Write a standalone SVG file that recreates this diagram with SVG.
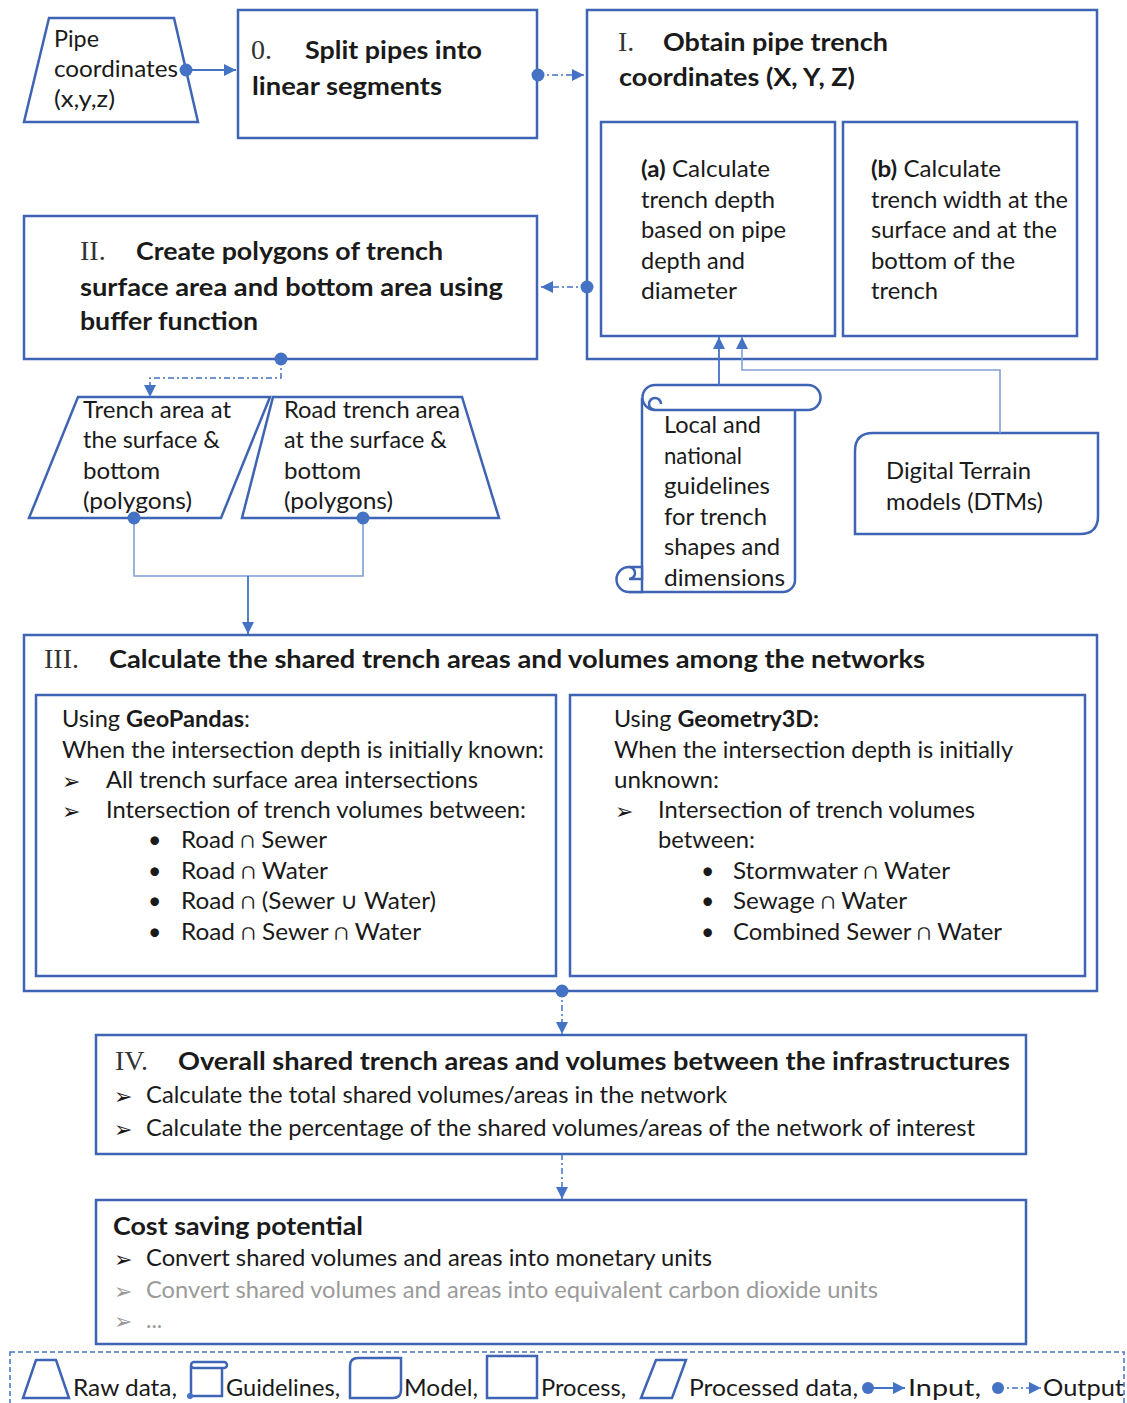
<svg xmlns="http://www.w3.org/2000/svg" width="1127" height="1403" viewBox="0 0 1127 1403">
<defs>
<style>
.box{fill:#fff;stroke:#3F64B4;stroke-width:2.5}
.t{font-family:Lato,'DejaVu Sans','Liberation Sans',sans-serif;font-size:23px;fill:#1a1a1a}
.b{font-family:Lato,'DejaVu Sans','Liberation Sans',sans-serif;font-size:25px;font-weight:700;fill:#1a1a1a}
.rn{font-family:'Liberation Serif','DejaVu Serif',serif;font-size:28px;fill:#333}
.ar{font-family:'DejaVu Sans',sans-serif;font-size:22px;fill:#1a1a1a}
.g{fill:#9a9a9a}
.in{fill:none;stroke:#4472C4;stroke-width:1.8}
.thin{fill:none;stroke:#7F9FD8;stroke-width:1.6}
.out{fill:none;stroke:#4472C4;stroke-width:1.5;stroke-dasharray:6 3 2 3}
.dot{fill:#4472C4}
</style>
<marker id="ah" viewBox="0 0 10 10" refX="10" refY="5" markerWidth="12" markerHeight="12" markerUnits="userSpaceOnUse" orient="auto">
<path d="M0,0 L10,5 L0,10 Z" fill="#4472C4"/>
</marker>
</defs>
<rect width="1127" height="1403" fill="#fff"/>

<g id="pipe-coordinates">
<polygon class="box" points="49,18 174,18 198,122 24,122"/>
<text class="t" x="54" y="47" textLength="45" lengthAdjust="spacingAndGlyphs">Pipe</text>
<text class="t" x="54" y="77" textLength="124" lengthAdjust="spacingAndGlyphs">coordinates</text>
<text class="t" x="54" y="107" textLength="61" lengthAdjust="spacingAndGlyphs">(x,y,z)</text>
</g>

<g id="step0">
<rect class="box" x="238" y="10" width="299" height="128"/>
<text class="rn" x="251" y="59">0.</text>
<text class="b" x="305" y="59" textLength="177" lengthAdjust="spacingAndGlyphs">Split pipes into</text>
<text class="b" x="252" y="95" textLength="190" lengthAdjust="spacingAndGlyphs">linear segments</text>
</g>

<g id="step1">
<rect class="box" x="587" y="10" width="510" height="349"/>
<text class="rn" x="618" y="51">I.</text>
<text class="b" x="663" y="51" textLength="225" lengthAdjust="spacingAndGlyphs">Obtain pipe trench</text>
<text class="b" x="619" y="86" textLength="236" lengthAdjust="spacingAndGlyphs">coordinates (X, Y, Z)</text>
</g>

<g id="step1a">
<rect class="box" x="601" y="122" width="234" height="214"/>
<text class="t" x="641" y="177" textLength="129" lengthAdjust="spacingAndGlyphs"><tspan font-weight="700">(a)</tspan> Calculate</text>
<text class="t" x="641" y="208" textLength="134" lengthAdjust="spacingAndGlyphs">trench depth</text>
<text class="t" x="641" y="238" textLength="145" lengthAdjust="spacingAndGlyphs">based on pipe</text>
<text class="t" x="641" y="269" textLength="104" lengthAdjust="spacingAndGlyphs">depth and</text>
<text class="t" x="641" y="299" textLength="96" lengthAdjust="spacingAndGlyphs">diameter</text>
</g>

<g id="step1b">
<rect class="box" x="843" y="122" width="234" height="214"/>
<text class="t" x="871" y="177" textLength="130" lengthAdjust="spacingAndGlyphs"><tspan font-weight="700">(b)</tspan> Calculate</text>
<text class="t" x="871" y="208" textLength="197" lengthAdjust="spacingAndGlyphs">trench width at the</text>
<text class="t" x="871" y="238" textLength="186" lengthAdjust="spacingAndGlyphs">surface and at the</text>
<text class="t" x="871" y="269" textLength="144" lengthAdjust="spacingAndGlyphs">bottom of the</text>
<text class="t" x="871" y="299" textLength="67" lengthAdjust="spacingAndGlyphs">trench</text>
</g>

<g id="step2">
<rect class="box" x="24" y="216" width="513" height="143"/>
<text class="rn" x="80" y="260">II.</text>
<text class="b" x="136" y="260" textLength="307" lengthAdjust="spacingAndGlyphs">Create polygons of trench</text>
<text class="b" x="80" y="296" textLength="423" lengthAdjust="spacingAndGlyphs">surface area and bottom area using</text>
<text class="b" x="80" y="330" textLength="178" lengthAdjust="spacingAndGlyphs">buffer function</text>
</g>

<g id="trench-area">
<polygon class="box" points="78,397 270,397 221,518 29,518"/>
<text class="t" x="83" y="418" textLength="148" lengthAdjust="spacingAndGlyphs">Trench area at</text>
<text class="t" x="83" y="448" textLength="137" lengthAdjust="spacingAndGlyphs">the surface &amp;</text>
<text class="t" x="83" y="479" textLength="77" lengthAdjust="spacingAndGlyphs">bottom</text>
<text class="t" x="83" y="509" textLength="109" lengthAdjust="spacingAndGlyphs">(polygons)</text>
</g>

<g id="road-trench-area">
<polygon class="box" points="273,397 462,397 499,518 242,518"/>
<text class="t" x="284" y="418" textLength="176" lengthAdjust="spacingAndGlyphs">Road trench area</text>
<text class="t" x="284" y="448" textLength="163" lengthAdjust="spacingAndGlyphs">at the surface &amp;</text>
<text class="t" x="284" y="479" textLength="77" lengthAdjust="spacingAndGlyphs">bottom</text>
<text class="t" x="284" y="509" textLength="109" lengthAdjust="spacingAndGlyphs">(polygons)</text>
</g>

<g id="guidelines">
<path class="box" fill="none" d="M629,592 H783 A12,12 0 0 0 795,580 V410"/>
<path class="box" d="M642,398 V580"/>
<path class="box" d="M655,385 H808 A12.5,12.5 0 0 1 808,410 H655 A12.5,12.5 0 0 1 655,385 Z"/>
<path fill="none" stroke="#3F64B4" stroke-width="2.5" d="M655,410 A6,6 0 0 1 655,398 A6,6 0 0 1 661,404"/>
<path class="box" d="M629,567 A12.5,12.5 0 1 0 629,592 H642 V567 Z"/>
<path fill="none" stroke="#3F64B4" stroke-width="2.5" d="M629,567 A6,6 0 0 1 635,573 A6,6 0 0 1 629,579 H642"/>
<text class="t" x="664" y="433" textLength="97" lengthAdjust="spacingAndGlyphs">Local and</text>
<text class="t" x="664" y="464" textLength="78" lengthAdjust="spacingAndGlyphs">national</text>
<text class="t" x="664" y="494" textLength="106" lengthAdjust="spacingAndGlyphs">guidelines</text>
<text class="t" x="664" y="525" textLength="103" lengthAdjust="spacingAndGlyphs">for trench</text>
<text class="t" x="664" y="555" textLength="116" lengthAdjust="spacingAndGlyphs">shapes and</text>
<text class="t" x="664" y="586" textLength="121" lengthAdjust="spacingAndGlyphs">dimensions</text>
</g>

<g id="dtm">
<path class="box" d="M855,534 V451 Q855,433 873,433 H1098 V516 Q1098,534 1080,534 Z"/>
<text class="t" x="886" y="479" textLength="145" lengthAdjust="spacingAndGlyphs">Digital Terrain</text>
<text class="t" x="886" y="510" textLength="157" lengthAdjust="spacingAndGlyphs">models (DTMs)</text>
</g>

<g id="step3">
<rect class="box" x="24" y="635" width="1073" height="356"/>
<text class="rn" x="44" y="668">III.</text>
<text class="b" x="109" y="668" textLength="816" lengthAdjust="spacingAndGlyphs">Calculate the shared trench areas and volumes among the networks</text>
</g>

<g id="step3-geopandas">
<rect class="box" x="36" y="695" width="520" height="281"/>
<text class="t" x="62" y="727" textLength="188" lengthAdjust="spacingAndGlyphs">Using <tspan font-weight="700">GeoPandas</tspan>:</text>
<text class="t" x="62" y="758" textLength="482" lengthAdjust="spacingAndGlyphs">When the intersection depth is initially known:</text>
<text class="ar" x="62" y="789">➢</text>
<text class="t" x="106" y="788" textLength="372" lengthAdjust="spacingAndGlyphs">All trench surface area intersections</text>
<text class="ar" x="62" y="819">➢</text>
<text class="t" x="106" y="818" textLength="420" lengthAdjust="spacingAndGlyphs">Intersection of trench volumes between:</text>
<text class="t" x="148" y="848">•</text>
<text class="t" x="181" y="848" textLength="146" lengthAdjust="spacingAndGlyphs">Road ∩ Sewer</text>
<text class="t" x="148" y="879">•</text>
<text class="t" x="181" y="879" textLength="147" lengthAdjust="spacingAndGlyphs">Road ∩ Water</text>
<text class="t" x="148" y="909">•</text>
<text class="t" x="181" y="909" textLength="255" lengthAdjust="spacingAndGlyphs">Road ∩ (Sewer ∪ Water)</text>
<text class="t" x="148" y="940">•</text>
<text class="t" x="181" y="940" textLength="240" lengthAdjust="spacingAndGlyphs">Road ∩ Sewer ∩ Water</text>
</g>

<g id="step3-geometry3d">
<rect class="box" x="570" y="695" width="515" height="281"/>
<text class="t" x="614" y="727" textLength="205" lengthAdjust="spacingAndGlyphs">Using <tspan font-weight="700">Geometry3D:</tspan></text>
<text class="t" x="614" y="758" textLength="399" lengthAdjust="spacingAndGlyphs">When the intersection depth is initially</text>
<text class="t" x="614" y="788" textLength="105" lengthAdjust="spacingAndGlyphs">unknown:</text>
<text class="ar" x="615" y="819">➢</text>
<text class="t" x="658" y="818" textLength="317" lengthAdjust="spacingAndGlyphs">Intersection of trench volumes</text>
<text class="t" x="658" y="848" textLength="97" lengthAdjust="spacingAndGlyphs">between:</text>
<text class="t" x="701" y="879">•</text>
<text class="t" x="733" y="879" textLength="217" lengthAdjust="spacingAndGlyphs">Stormwater ∩ Water</text>
<text class="t" x="701" y="909">•</text>
<text class="t" x="733" y="909" textLength="174" lengthAdjust="spacingAndGlyphs">Sewage ∩ Water</text>
<text class="t" x="701" y="940">•</text>
<text class="t" x="733" y="940" textLength="269" lengthAdjust="spacingAndGlyphs">Combined Sewer ∩ Water</text>
</g>

<g id="step4">
<rect class="box" x="96" y="1035" width="930" height="119"/>
<text class="rn" x="115" y="1070">IV.</text>
<text class="b" x="178" y="1070" textLength="832" lengthAdjust="spacingAndGlyphs">Overall shared trench areas and volumes between the infrastructures</text>
<text class="ar" x="114" y="1104">➢</text>
<text class="t" x="146" y="1103" textLength="581" lengthAdjust="spacingAndGlyphs">Calculate the total shared volumes/areas in the network</text>
<text class="ar" x="114" y="1137">➢</text>
<text class="t" x="146" y="1136" textLength="829" lengthAdjust="spacingAndGlyphs">Calculate the percentage of the shared volumes/areas of the network of interest</text>
</g>

<g id="cost-saving">
<rect class="box" x="96" y="1200" width="930" height="144"/>
<text class="b" x="113" y="1235" textLength="250" lengthAdjust="spacingAndGlyphs">Cost saving potential</text>
<text class="ar" x="114" y="1267">➢</text>
<text class="t" x="146" y="1266" textLength="566" lengthAdjust="spacingAndGlyphs">Convert shared volumes and areas into monetary units</text>
<text class="ar g" x="114" y="1299">➢</text>
<text class="t g" x="146" y="1298" textLength="732" lengthAdjust="spacingAndGlyphs">Convert shared volumes and areas into equivalent carbon dioxide units</text>
<text class="ar g" x="114" y="1329">➢</text>
<text class="t g" x="146" y="1328">...</text>
</g>

<g id="connectors">
<line class="in" x1="186" y1="70" x2="236" y2="70" marker-end="url(#ah)"/>
<circle class="dot" cx="186" cy="70" r="6.5"/>
<line class="out" x1="538" y1="75" x2="584" y2="75" marker-end="url(#ah)"/>
<circle class="dot" cx="538" cy="75" r="6.5"/>
<line class="out" x1="587" y1="287" x2="541" y2="287" marker-end="url(#ah)"/>
<circle class="dot" cx="587" cy="287" r="6.5"/>
<polyline class="out" points="281,359 281,378 150,378 150,397" marker-end="url(#ah)"/>
<circle class="dot" cx="281" cy="359" r="6.5"/>
<polyline class="thin" points="134,518 134,576 363,576 363,518"/>
<line class="in" x1="248" y1="576" x2="248" y2="634" marker-end="url(#ah)"/>
<circle class="dot" cx="134" cy="518" r="6.5"/>
<circle class="dot" cx="363" cy="518" r="6.5"/>
<line class="in" x1="719" y1="385" x2="719" y2="337" marker-end="url(#ah)"/>
<polyline class="thin" points="1000,433 1000,370 742,370 742,337" marker-end="url(#ah)"/>
<line class="out" x1="562" y1="991" x2="562" y2="1034" marker-end="url(#ah)"/>
<circle class="dot" cx="562" cy="991" r="6.5"/>
<line class="out" x1="562" y1="1154" x2="562" y2="1199" marker-end="url(#ah)"/>
</g>

<g id="legend">
<rect x="10" y="1352" width="1114" height="60" fill="none" stroke="#4472C4" stroke-width="1.5" stroke-dasharray="5 3"/>
<polygon class="box" points="36,1360 56,1360 69,1398 23,1398" stroke-width="2"/>
<text class="t" x="73" y="1396" textLength="104" lengthAdjust="spacingAndGlyphs">Raw data,</text>
<path class="box" stroke-width="2" d="M191,1366 V1396 H222 V1368"/>
<path class="box" stroke-width="2" d="M194,1362 H224 A3,3 0 0 1 224,1368 H194 A3,3 0 0 1 194,1362 Z"/>
<circle class="dot" cx="190" cy="1396" r="3"/>
<text class="t" x="226" y="1396" textLength="114" lengthAdjust="spacingAndGlyphs">Guidelines,</text>
<path class="box" stroke-width="2" d="M350,1398 V1366 Q350,1358 358,1358 H401 V1390 Q401,1398 393,1398 Z"/>
<text class="t" x="404" y="1396" textLength="74" lengthAdjust="spacingAndGlyphs">Model,</text>
<rect class="box" stroke-width="2" x="487" y="1356" width="50" height="42"/>
<text class="t" x="541" y="1396" textLength="85" lengthAdjust="spacingAndGlyphs">Process,</text>
<polygon class="box" stroke-width="2" points="656,1360 686,1360 672,1398 641,1398"/>
<text class="t" x="689" y="1396" textLength="169" lengthAdjust="spacingAndGlyphs">Processed data,</text>
<line class="in" x1="868" y1="1388" x2="905" y2="1388" marker-end="url(#ah)"/>
<circle class="dot" cx="868" cy="1388" r="6"/>
<text class="t" x="908" y="1396" textLength="73" lengthAdjust="spacingAndGlyphs">Input,</text>
<line class="out" x1="998" y1="1388" x2="1041" y2="1388" marker-end="url(#ah)"/>
<circle class="dot" cx="998" cy="1388" r="6"/>
<text class="t" x="1043" y="1396" textLength="81" lengthAdjust="spacingAndGlyphs">Output</text>
</g>
</svg>
